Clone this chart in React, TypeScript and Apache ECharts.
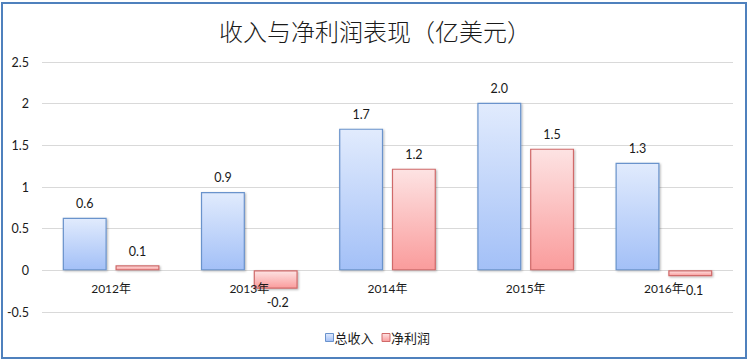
import React, { useEffect, useRef } from "react";
import * as echarts from "echarts";

const titleText = "收入与净利润表现（亿美元）";
const categories = ["2012年", "2013年", "2014年", "2015年", "2016年"];
const revenueName = "总收入";
const profitName = "净利润";
const revenue = [0.63, 0.94, 1.7, 2.01, 1.29];
const profit = [0.06, -0.22, 1.22, 1.46, -0.07];
const yMin = -0.5;
const yMax = 2.5;
const yStep = 0.5;

const FONT = "Lato, 'Noto Sans CJK SC', sans-serif";

function toItems(values: number[]) {
  return values.map((v) => ({
    value: v,
    label: { position: v < 0 ? "bottom" : "top", offset: v < 0 ? [2, 0] : [0, 0] },
  }));
}

export default function App() {
  const ref = useRef<HTMLDivElement>(null);
  useEffect(() => {
    document.body.style.margin = "0";
    const chart = echarts.init(ref.current!, null, { renderer: "svg" });
    const blueGrad = new echarts.graphic.LinearGradient(0, 0, 0, 1, [
      { offset: 0, color: "#e1ebfd" },
      { offset: 1, color: "#a3c0f7" },
    ]);
    const redGrad = new echarts.graphic.LinearGradient(0, 0, 0, 1, [
      { offset: 0, color: "#fde3e3" },
      { offset: 1, color: "#fa9c9c" },
    ]);
    const labelCommon = {
      show: true,
      distance: 8,
      fontSize: 12.5,
      color: "#1a1a1a",
      fontFamily: FONT,
      formatter: (p: any) => Number(p.value).toFixed(1),
    };
    chart.setOption({
      animation: false,
      backgroundColor: "#ffffff",
      title: {
        text: titleText,
        left: "center",
        top: 13,
        textStyle: {
          fontSize: 24,
          fontWeight: 300,
          color: "#1a1a1a",
          fontFamily: "'Noto Sans CJK SC', sans-serif",
        },
      },
      graphic: [
        {
          type: "rect",
          shape: { x: 2, y: 3, width: 744, height: 355 },
          style: { fill: "none", stroke: "#4f81bd", lineWidth: 2 },
          z: 100,
        },
      ],
      legend: {
        left: 320,
        top: 326,
        itemWidth: 8,
        itemHeight: 8,
        itemGap: 8,
        icon: "rect",
        textStyle: { fontSize: 13, color: "#1a1a1a", fontFamily: "'Noto Sans CJK SC', sans-serif", padding: [0, 0, 0, -4] },
        data: [
          { name: revenueName, itemStyle: { color: blueGrad, borderColor: "#6a93cc", borderWidth: 1 } },
          { name: profitName, itemStyle: { color: redGrad, borderColor: "#d06a6a", borderWidth: 1 } },
        ],
      },
      grid: { left: 42, right: 17, top: 62, bottom: 49, containLabel: false },
      xAxis: {
        type: "category",
        data: categories,
        z: 5,
        axisLine: { show: false, onZero: false },
        axisTick: { show: false },
        axisLabel: { margin: -30, fontSize: 12, color: "#1a1a1a", fontFamily: FONT },
      },
      yAxis: {
        type: "value",
        min: yMin,
        max: yMax,
        interval: yStep,
        axisLine: { show: false },
        axisTick: { show: false },
        splitLine: { lineStyle: { color: "#d9d9d9", width: 1 } },
        axisLabel: {
          margin: 13,
          fontSize: 12.5,
          color: "#1a1a1a",
          fontFamily: FONT,
          formatter: (v: number) => String(Number(v.toFixed(1))),
        },
      },
      series: [
        {
          name: revenueName,
          type: "bar",
          data: toItems(revenue),
          barCategoryGap: "30%",
          barGap: "20%",
          itemStyle: {
            color: blueGrad,
            borderColor: "#6a93cc",
            borderWidth: 1.2,
            shadowColor: "rgba(0,0,0,0.3)",
            shadowBlur: 2,
            shadowOffsetX: 1,
            shadowOffsetY: 1,
          },
          label: labelCommon,
        },
        {
          name: profitName,
          type: "bar",
          data: toItems(profit),
          barCategoryGap: "30%",
          barGap: "20%",
          itemStyle: {
            color: redGrad,
            borderColor: "#d06a6a",
            borderWidth: 1.2,
            shadowColor: "rgba(0,0,0,0.3)",
            shadowBlur: 2,
            shadowOffsetX: 1,
            shadowOffsetY: 1,
          },
          label: labelCommon,
        },
      ],
    });
    return () => chart.dispose();
  }, []);
  return <div ref={ref} style={{ width: 750, height: 361 }} />;
}
